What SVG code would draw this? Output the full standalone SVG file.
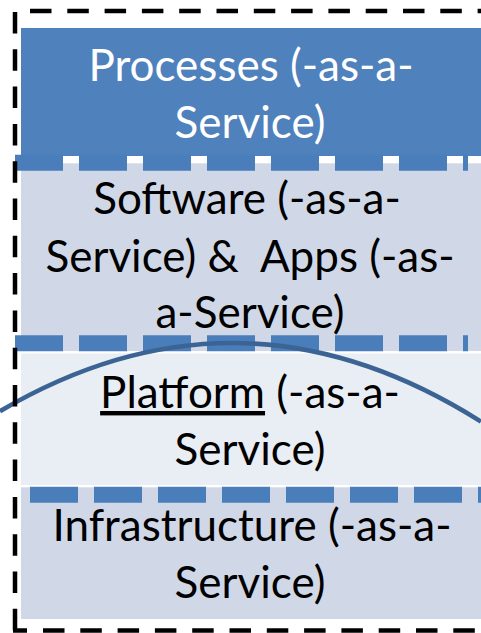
<svg xmlns="http://www.w3.org/2000/svg" width="481" height="633" viewBox="0 0 481 633">
<style>
.lbl{font-family:Lato,"Open Sans","Liberation Sans",sans-serif;font-size:44px;text-anchor:middle;fill:#000;white-space:pre}
.w{fill:#fff}
.frame{stroke:#000;stroke-width:4.5;fill:none;stroke-dasharray:21.5 15.8}
.sep{stroke:#4A7EBB;stroke-width:16;fill:none;stroke-dasharray:48 16}
</style>
<rect width="481" height="633" fill="#fff"/>
<g id="processes">
<rect x="21" y="28" width="470" height="128" fill="#4F81BD"/>
<text class="lbl w" x="251" y="81">Processes (-as-a-</text>
<text class="lbl w" x="250" y="138">Service)</text>
</g>
<g id="software">
<rect x="21" y="163.3" width="470" height="187.7" fill="#D0D8E8"/>
<text class="lbl" x="247" y="214">Software (-as-a-</text>
<text class="lbl" x="250" y="272">Service) &amp;  Apps (-as-</text>
<text class="lbl" x="250" y="328">a-Service)</text>
</g>
<g id="platform">
<rect x="21" y="353.5" width="470" height="131.5" fill="#E9EDF4"/>
<text class="lbl" x="250" y="408"><tspan text-decoration="underline">Platform</tspan> (-as-a-</text>
<text class="lbl" x="250" y="465">Service)</text>
</g>
<g id="infrastructure">
<rect x="21" y="487.3" width="470" height="131.7" fill="#D0D8E8"/>
<text class="lbl" x="252" y="541">Infrastructure (-as-a-</text>
<text class="lbl" x="250" y="598">Service)</text>
</g>
<g id="connectors">
<line class="sep" x1="15" y1="162.8" x2="468" y2="162.8"/>
<line class="sep" x1="15" y1="343.3" x2="468" y2="343.3"/>
<line class="sep" x1="30" y1="494.8" x2="490" y2="494.8"/>
<path d="M0,411.2 Q240.5,269.8 481,421.6" fill="none" stroke="#3B6494" stroke-width="4.5"/>
<line class="frame" x1="15" y1="12" x2="15" y2="631"/>
<line class="frame" x1="13" y1="630.5" x2="27" y2="630.5" stroke-dasharray="none"/>
<line class="frame" x1="43" y1="630.5" x2="490" y2="630.5" stroke-dasharray="22 15.4"/>
<line class="frame" x1="30" y1="11" x2="490" y2="11" stroke-dasharray="21.5 15.6"/>
</g>
</svg>
